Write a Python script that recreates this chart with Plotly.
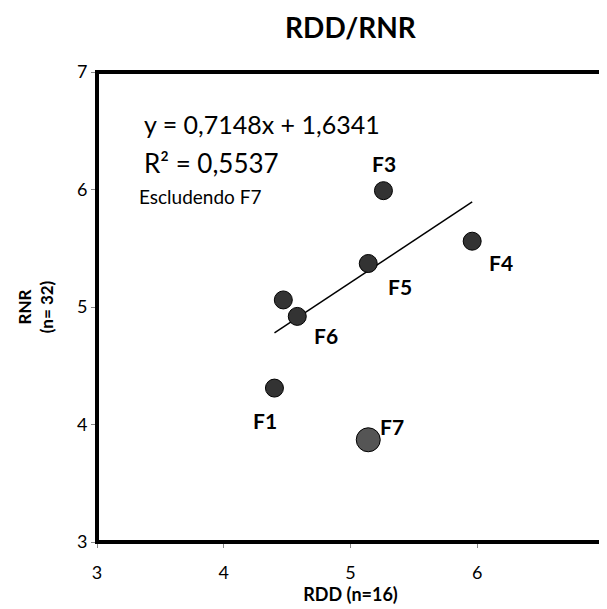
import plotly.graph_objects as go

labels = ["F1", "F2", "F3", "F4", "F5", "F6", "F7"]
rdd = [4.40, 4.47, 5.26, 5.96, 5.14, 4.58, 5.14]
rnr = [4.31, 5.06, 5.99, 5.56, 5.37, 4.92, 3.87]
show_label = [True, False, True, True, True, True, True]

slope = 0.7148
intercept = 1.6341
r2 = 0.5537
excluded = "F7"

x_range = [3, 7]
y_range = [3, 7]
tick_vals = [3, 4, 5, 6, 7]

FONT = "Lato, 'Open Sans', sans-serif"

W, H = 599, 601

fig = go.Figure()

# trend line (excluding F7)
inc_x = [x for x, l in zip(rdd, labels) if l != excluded]
xmin, xmax = min(inc_x), max(inc_x)
fig.add_trace(go.Scatter(
    x=[xmin, xmax], y=[slope * xmin + intercept, slope * xmax + intercept],
    mode="lines", line=dict(color="black", width=1.5), hoverinfo="skip", showlegend=False))

main_x = [x for x, l in zip(rdd, labels) if l != excluded]
main_y = [y for y, l in zip(rnr, labels) if l != excluded]
fig.add_trace(go.Scatter(
    x=main_x, y=main_y, mode="markers",
    marker=dict(size=18, color="#333333", line=dict(color="black", width=1)),
    showlegend=False))

ex_x = [x for x, l in zip(rdd, labels) if l == excluded]
ex_y = [y for y, l in zip(rnr, labels) if l == excluded]
fig.add_trace(go.Scatter(
    x=ex_x, y=ex_y, mode="markers",
    marker=dict(size=24, color="#555555", line=dict(color="black", width=1)),
    showlegend=False))

offsets = {"F1": (-9, -32), "F3": (1, 27), "F4": (29, -21), "F5": (32, -23),
           "F6": (29, -19), "F7": (24, 13)}
for x, y, l, s in zip(rdd, rnr, labels, show_label):
    if not s:
        continue
    dx, dy = offsets[l]
    fig.add_annotation(x=x, y=y, text="<b>%s</b>" % l, showarrow=False,
                       xshift=dx, yshift=dy,
                       font=dict(family=FONT, size=21, color="black"))

def fmt(v):
    return ("%.4f" % v).replace(".", ",")

fig.add_annotation(xref="paper", yref="paper", x=0.088, y=0.926, xanchor="left",
                   text="y = %sx + %s" % (fmt(slope), fmt(intercept)), showarrow=False,
                   font=dict(family=FONT, size=25, color="black"))
fig.add_annotation(xref="paper", yref="paper", x=0.088, y=0.845, xanchor="left",
                   text="R² = %s" % fmt(r2), showarrow=False,
                   font=dict(family=FONT, size=26, color="black"))
fig.add_annotation(xref="paper", yref="paper", x=0.078, y=0.764, xanchor="left",
                   text="Escludendo %s" % excluded, showarrow=False,
                   font=dict(family=FONT, size=19, color="black"))

fig.add_shape(type="rect", xref="paper", yref="paper", x0=0, y0=0, x1=1, y1=1,
              line=dict(color="black", width=4), layer="above")

fig.update_layout(
    width=W, height=H,
    margin=dict(l=89, r=3, t=64, b=67),
    paper_bgcolor="white", plot_bgcolor="white",
    font=dict(family=FONT, color="black"),
    title=dict(text="<b>RDD/RNR</b>", x=0.5, xref="paper", xanchor="center",
               y=1 - 20 / H, yanchor="middle",
               font=dict(family=FONT, size=28, color="black")),
    xaxis=dict(range=x_range, tickvals=tick_vals, showgrid=False, zeroline=False,
               ticks="outside", ticklen=5, tickcolor="#888888",
               showline=True, linecolor="#888888", linewidth=1,
               ticklabelstandoff=9,
               tickfont=dict(family=FONT, size=18, color="black"),
               title=dict(text="<b>RDD (n=16)</b>", standoff=2,
                          font=dict(family=FONT, size=18, color="black"))),
    yaxis=dict(range=y_range, tickvals=tick_vals, showgrid=False, zeroline=False,
               ticks="outside", ticklen=5, tickcolor="#888888",
               showline=True, linecolor="#888888", linewidth=1,
               tickfont=dict(family=FONT, size=18, color="black"),
               title=dict(text="<b>RNR<br>(n= 32)</b>", standoff=18,
                          font=dict(family=FONT, size=17, color="black"))),
)

fig.write_html("out.html")
